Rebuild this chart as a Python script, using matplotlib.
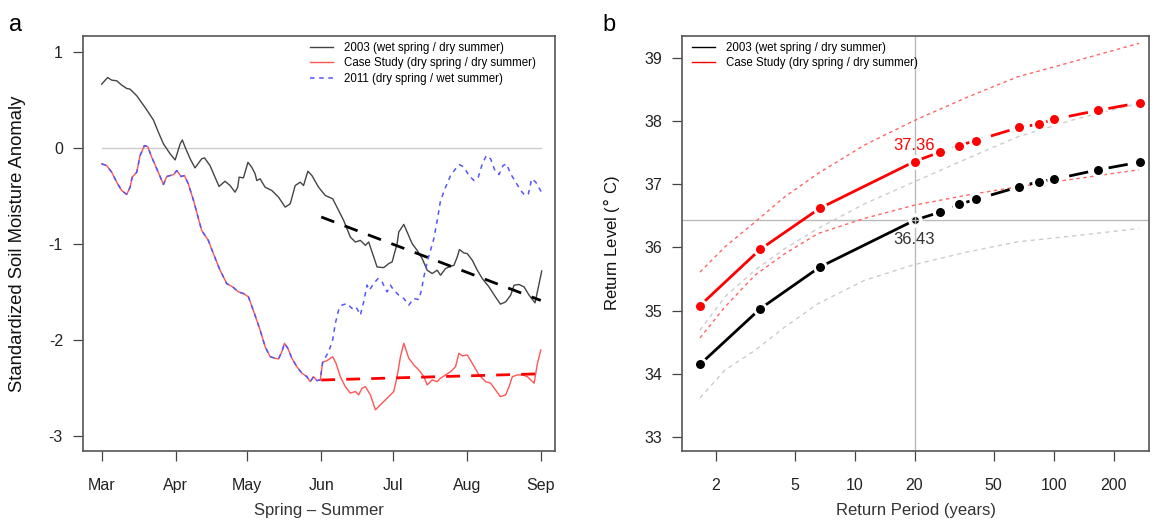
'''
Soil moisture anomalies (a) and return levels of summer temperature (b)
'''
import matplotlib
matplotlib.use('Agg')
import matplotlib.pyplot as plt

plt.rcParams['font.family'] = ['Liberation Sans', 'DejaVu Sans']

# ---- panel a: standardized soil moisture anomaly (day 0 = 1 March) ----
month_days = [0, 31, 61, 92, 122, 153, 184]
month_labels = ['Mar', 'Apr', 'May', 'Jun', 'Jul', 'Aug', 'Sep']

days_2003 = [0, 2.5, 4.2, 6.3, 8.4, 10.5, 11.9, 14.7, 18.2, 21.7, 23.8, 25.9, 28.7, 30.8,
             32.9, 33.8, 35.0, 37.1, 39.1, 41.9, 43.1, 45.4, 47.5, 49.2, 51.7, 53.8, 55.9,
             57.0, 57.6, 59.4, 61.3, 62.9, 64.3, 65.0, 66.4, 68.5, 71.3, 74.1, 76.9, 79.0,
             81.1, 83.2, 84.6, 86.4, 88.1, 90.9, 93.7, 96.8, 99.3, 101.4, 104.2, 106.3,
             108.4, 110.5, 111.9, 114.0, 115.4, 118.2, 120.3, 121.7, 123.8, 124.5, 126.6,
             128.0, 130.1, 132.2, 134.3, 136.4, 138.5, 140.6, 142.0, 144.1, 145.5, 147.6,
             149.0, 149.9, 151.8, 153.2, 155.3, 157.4, 159.5, 162.3, 165.0, 167.1, 169.3,
             171.4, 172.8, 174.9, 177.0, 179.1, 181.6, 183.3, 184.4]
sma_2003 = [0.665, 0.734, 0.707, 0.700, 0.655, 0.620, 0.613, 0.544, 0.422, 0.291, 0.162,
            0.042, -0.062, -0.125, 0.042, 0.083, 0.006, -0.114, -0.208, -0.114, -0.104,
            -0.184, -0.305, -0.402, -0.347, -0.392, -0.461, -0.410, -0.305, -0.312, -0.150,
            -0.202, -0.270, -0.340, -0.322, -0.410, -0.444, -0.513, -0.617, -0.583, -0.392,
            -0.357, -0.392, -0.243, -0.288, -0.410, -0.496, -0.530, -0.652, -0.756, -0.929,
            -0.981, -0.964, -1.016, -0.981, -1.137, -1.241, -1.248, -1.206, -1.189, -0.998,
            -0.877, -0.797, -0.877, -0.998, -1.068, -1.154, -1.275, -1.310, -1.275, -1.327,
            -1.258, -1.241, -1.224, -1.137, -1.060, -1.095, -1.102, -1.171, -1.275, -1.362,
            -1.449, -1.553, -1.629, -1.605, -1.535, -1.431, -1.424, -1.449, -1.535, -1.615,
            -1.414, -1.283]

# spring part shared by the case study and 2011
days_spring = [0, 2.1, 4.2, 6.3, 8.4, 10.5, 11.9, 12.8, 14.7, 16.1, 17.9, 19.3, 21.0, 23.1,
               25.9, 27.3, 30.1, 31.5, 33.3, 34.7, 36.3, 38.5, 41.9, 44.7, 46.8, 49.6, 52.4,
               55.2, 57.3, 59.4, 61.5, 64.0, 66.4, 68.5, 70.6, 72.7, 74.1, 75.5, 76.6, 78.0,
               79.7, 81.8, 83.9, 86.0, 87.4, 88.8, 90.2, 91.6]
sma_spring = [-0.166, -0.184, -0.253, -0.357, -0.444, -0.485, -0.410, -0.305, -0.253, -0.080,
              0.024, 0.014, -0.098, -0.218, -0.381, -0.298, -0.278, -0.236, -0.298, -0.288,
              -0.374, -0.548, -0.860, -0.964, -1.102, -1.275, -1.414, -1.455, -1.501, -1.518,
              -1.553, -1.726, -1.899, -2.073, -2.177, -2.193, -2.200, -2.125, -2.037, -2.089,
              -2.193, -2.281, -2.349, -2.385, -2.437, -2.385, -2.426, -2.419]

days_case_summer = [92.6, 94.4, 96.8, 98.2, 100.0, 102.1, 104.2, 106.3, 107.7, 109.1, 110.5,
                    112.6, 114.7, 116.8, 118.9, 121.0, 122.4, 123.8, 125.2, 126.6, 128.7,
                    130.8, 132.9, 135.0, 136.4, 138.5, 140.6, 142.0, 144.1, 146.2, 148.3,
                    149.7, 151.1, 153.2, 155.3, 158.1, 160.9, 163.0, 165.0, 167.1, 169.3,
                    170.7, 172.1, 174.2, 176.3, 178.4, 181.2, 182.6, 184.0]
sma_case_summer = [-2.235, -2.218, -2.177, -2.246, -2.385, -2.489, -2.557, -2.540, -2.575,
                   -2.505, -2.489, -2.575, -2.731, -2.679, -2.627, -2.575, -2.540, -2.385,
                   -2.177, -2.037, -2.193, -2.263, -2.315, -2.385, -2.471, -2.419, -2.437,
                   -2.401, -2.367, -2.333, -2.281, -2.141, -2.168, -2.159, -2.246, -2.367,
                   -2.437, -2.453, -2.523, -2.593, -2.575, -2.489, -2.385, -2.367, -2.367,
                   -2.385, -2.453, -2.246, -2.107]

days_2011_summer = [92.6, 95.1, 96.8, 97.9, 99.3, 100.7, 102.8, 104.9, 106.6, 108.4, 109.8,
                    111.2, 112.2, 114.0, 115.8, 117.5, 119.6, 121.0, 122.4, 124.5, 126.6,
                    128.7, 130.8, 132.9, 134.0, 135.0, 136.4, 137.8, 139.2, 140.6, 142.0,
                    144.1, 146.2, 148.3, 150.0, 151.8, 153.9, 156.0, 157.8, 159.5, 161.2,
                    163.0, 164.8, 166.5, 168.2, 169.6, 171.4, 173.5, 175.6, 177.4, 178.8,
                    180.2, 181.9, 184.3]
sma_2011_summer = [-2.235, -2.125, -2.003, -1.830, -1.691, -1.639, -1.622, -1.674, -1.657,
                   -1.743, -1.605, -1.431, -1.483, -1.414, -1.362, -1.397, -1.501, -1.431,
                   -1.483, -1.535, -1.570, -1.639, -1.570, -1.581, -1.483, -1.345, -1.189,
                   -1.068, -0.946, -0.756, -0.548, -0.410, -0.288, -0.218, -0.174, -0.200,
                   -0.288, -0.340, -0.305, -0.166, -0.080, -0.115, -0.236, -0.278, -0.184,
                   -0.166, -0.271, -0.357, -0.444, -0.496, -0.479, -0.322, -0.357, -0.461]

# summer trends (Jun 1 -> Sep 1)
trend_days = [92, 184]
trend_2003 = [-0.72, -1.59]
trend_case = [-2.42, -2.355]

# ---- panel b: return levels ----
return_period = [1.67, 3.35, 6.68, 20, 26.9, 33.3, 40.5, 67.3, 84.2, 101, 168, 271]
level_2003 = [34.15, 35.03, 35.69, 36.43, 36.56, 36.68, 36.76, 36.96, 37.04, 37.08, 37.23, 37.35]
level_case = [35.08, 35.97, 36.62, 37.36, 37.51, 37.61, 37.69, 37.90, 37.95, 38.03, 38.17, 38.29]

band_period = [1.67, 2.23, 3.15, 4.45, 6.54, 11.2, 20, 37.0, 66.0, 132, 269]
case_upper = [35.61, 36.01, 36.40, 36.80, 37.17, 37.62, 38.01, 38.38, 38.70, 38.96, 39.23]
case_lower = [34.57, 35.06, 35.56, 35.90, 36.22, 36.46, 36.67, 36.83, 36.96, 37.09, 37.23]
y2003_upper = [34.69, 35.22, 35.64, 35.98, 36.30, 36.69, 37.04, 37.41, 37.75, 38.04, 38.28]
y2003_lower = [33.62, 34.06, 34.37, 34.74, 35.11, 35.48, 35.73, 35.93, 36.09, 36.19, 36.30]

period_ticks = [2, 5, 10, 20, 50, 100, 200]
mark_period = 20

fig = plt.figure(figsize=(11.55, 5.23), dpi=100)
ax1 = fig.add_axes([0.0719, 0.1377, 0.4087, 0.794])
ax2 = fig.add_axes([0.5907, 0.1377, 0.4042, 0.794])

tick_kw = dict(direction='out', length=7.5, width=0.9, labelsize=11.5, color='#444444',
               labelcolor='#222222')

# panel a
ax1.plot([month_days[0], month_days[-1]], [0, 0], color='#cccccc', lw=1)
ax1.plot(days_2003, sma_2003, color='#444444', lw=1.0, label='2003 (wet spring / dry summer)')
ax1.plot(days_spring + days_case_summer, sma_spring + sma_case_summer, color='#ff5555',
         lw=1.0, label='Case Study (dry spring / dry summer)')
ax1.plot(days_spring + days_2011_summer, sma_spring + sma_2011_summer, color='#5555ff',
         lw=1.1, ls=(0, (3, 3)), label='2011 (dry spring / wet summer)')
ax1.plot(trend_days, trend_2003, color='black', lw=2, ls=(0, (5, 4)))
ax1.plot(trend_days, trend_case, color='red', lw=2, ls=(0, (5, 4)))
ax1.set_xlim(-7.8, 190)
ax1.set_ylim(-3.16, 1.17)
ax1.set_xticks(month_days)
ax1.set_xticklabels(month_labels)
ax1.set_yticks([1, 0, -1, -2, -3])
ax1.set_yticklabels(['1', '0', '-1', '-2', '-3'])
ax1.tick_params(axis='x', pad=12, **tick_kw)
ax1.tick_params(axis='y', pad=7, **tick_kw)
ax1.set_xlabel('Spring \u2013 Summer', fontsize=12, color='#333333')
ax1.set_ylabel('Standardized Soil Moisture Anomaly', fontsize=13.3, color='#111111')
ax1.xaxis.set_label_coords(0.5, -0.125)
ax1.yaxis.set_label_coords(-0.12, 0.5)
ax1.legend(loc='upper left', bbox_to_anchor=(0.48, 0.985), frameon=False, fontsize=8.3,
           handlelength=2.0, handletextpad=1.0, labelspacing=0.3, borderaxespad=0,
           borderpad=0)

# panel b
ax2.axvline(mark_period, color='#bbbbbb', lw=1)
ax2.axhline(level_2003[3], color='#bbbbbb', lw=1)
ax2.plot(band_period, case_upper, color='#ff6666', lw=1.0, ls=(0, (2.5, 2.5)))
ax2.plot(band_period, case_lower, color='#ff6666', lw=1.0, ls=(0, (2.5, 2.5)))
ax2.plot(band_period, y2003_upper, color='#cccccc', lw=1.0, ls=(0, (3, 3)))
ax2.plot(band_period, y2003_lower, color='#cccccc', lw=1.0, ls=(0, (3, 3)))

for levels, col, name in [(level_2003, 'black', '2003 (wet spring / dry summer)'),
                          (level_case, 'red', 'Case Study (dry spring / dry summer)')]:
    ax2.plot(return_period[:4], levels[:4], color=col, lw=2, solid_capstyle='butt')
    ax2.plot(return_period[3:], levels[3:], color=col, lw=2, ls=(0, (7, 3, 1.5, 3)))
    ax2.plot(return_period, levels, ls='none', marker='o', ms=8.5, mfc=col, mec='white',
             mew=2.0, zorder=4)
    ax2.plot([], [], color=col, lw=1, label=name)

ax2.plot([mark_period], [level_2003[3]], ls='none', marker='o', ms=6, mfc='black',
         mec='white', mew=1, zorder=5)
ax2.plot([mark_period], [level_2003[3]], ls='none', marker='+', ms=6, mec='#bbbbbb',
         mew=1, zorder=6)
ax2.text(mark_period, level_case[3] + 0.13, f'{level_case[3]:.2f}', color='red',
         fontsize=12, ha='center', va='bottom')
ax2.text(mark_period, level_2003[3] - 0.18, f'{level_2003[3]:.2f}', color='#333333',
         fontsize=12, ha='center', va='top')

ax2.set_xscale('log')
ax2.set_xlim(1.36, 302)
ax2.set_ylim(32.78, 39.35)
ax2.set_xticks(period_ticks)
ax2.set_xticklabels([str(p) for p in period_ticks])
ax2.xaxis.set_minor_locator(matplotlib.ticker.NullLocator())
ax2.set_yticks([33, 34, 35, 36, 37, 38, 39])
ax2.tick_params(axis='x', pad=12, **tick_kw)
ax2.tick_params(axis='y', pad=7, **tick_kw)
ax2.set_xlabel('Return Period (years)', fontsize=12, color='#333333')
ax2.set_ylabel('Return Level ($\\degree$ C)', fontsize=12, color='#111111')
ax2.xaxis.set_label_coords(0.5, -0.125)
ax2.yaxis.set_label_coords(-0.13, 0.5)
ax2.legend(loc='upper left', bbox_to_anchor=(0.02, 0.985), frameon=False, fontsize=8.3,
           handlelength=2.0, handletextpad=1.0, labelspacing=0.3, borderaxespad=0,
           borderpad=0)

for ax in (ax1, ax2):
    for s in ax.spines.values():
        s.set_color('#555555')
        s.set_linewidth(1.2)

fig.text(0.008, 0.94, 'a', fontsize=17)
fig.text(0.522, 0.94, 'b', fontsize=17)

fig.savefig('out.png', dpi=100)
